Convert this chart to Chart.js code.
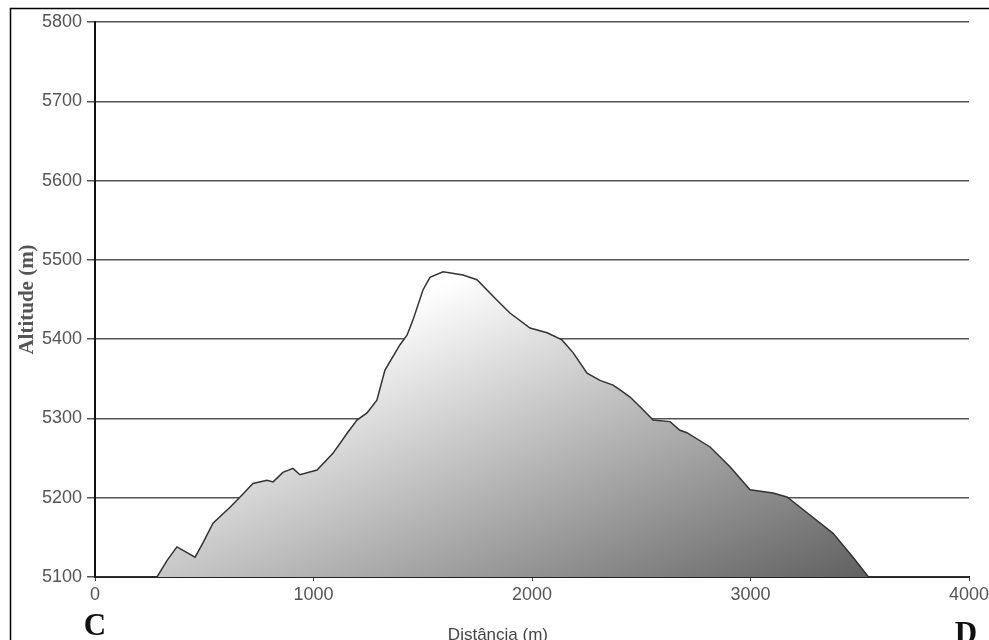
<!DOCTYPE html>
<html>
<head>
<meta charset="utf-8">
<script src="https://cdn.jsdelivr.net/npm/chart.js@4/dist/chart.umd.min.js"></script>
<style>
  html, body { margin: 0; padding: 0; background: #fff; }
  #wrap { width: 989px; height: 640px; position: relative; }
</style>
</head>
<body>
<div id="wrap"><canvas id="perfil"></canvas></div>
<script>
// perfil C - D
const distancias = [0, 284, 330, 375, 458, 494, 540, 618, 664, 723, 787, 815, 860, 906, 938, 1016,
  1089, 1153, 1199, 1245, 1290, 1327, 1396, 1428, 1455, 1501, 1533, 1593, 1684, 1748, 1840, 1899,
  1991, 2069, 2137, 2188, 2252, 2311, 2371, 2403, 2449, 2508, 2554, 2632, 2677, 2709, 2815, 2906,
  2998, 3103, 3167, 3259, 3378, 3469, 3540, 4000];
const altitudes = [5100, 5100, 5121, 5138, 5125, 5143, 5168, 5188, 5201, 5218, 5222, 5220, 5232, 5237, 5229, 5235,
  5256, 5281, 5298, 5307, 5323, 5361, 5393, 5405, 5424, 5462, 5478, 5485, 5481, 5475, 5449, 5433,
  5414, 5408, 5399, 5383, 5357, 5348, 5342, 5336, 5327, 5311, 5298, 5296, 5285, 5282, 5264, 5239,
  5210, 5206, 5201, 5181, 5155, 5125, 5100, 5100];
const xTicks = [0, 1000, 2000, 3000, 4000];
const yTicks = [5100, 5200, 5300, 5400, 5500, 5600, 5700, 5800];
const pontoInicio = 'C';
const pontoFim = 'D';
const tituloX = 'Distância (m)';
const tituloY = 'Altitude (m)';

const pontos = distancias.map((d, i) => ({ x: d, y: altitudes[i] }));

function gradiente(context) {
  const a = context.chart.chartArea;
  if (!a) return '#bbb';
  const w = a.right - a.left, h = a.bottom - a.top;
  const g = context.chart.ctx.createLinearGradient(
    a.left + w * 0.395, a.top + h * 0.474,
    a.left + w * 0.605, a.top + h * 1.229);
  g.addColorStop(0, '#ffffff');
  g.addColorStop(1, '#5a5a5a');
  return g;
}

// moldura, titulo do eixo x e letras C / D
const extras = {
  id: 'extras',
  beforeDraw(chart) {
    const c = chart.ctx;
    c.save();
    c.fillStyle = '#fff';
    c.fillRect(0, 0, chart.width, chart.height);
    c.strokeStyle = '#000';
    c.lineWidth = 1.5;
    c.strokeRect(10.5, 8.5, chart.width + 20, chart.height + 20);
    c.restore();
  },
  afterDraw(chart) {
    const c = chart.ctx;
    const x = chart.scales.x;
    const a = chart.chartArea;
    c.save();
    c.fillStyle = '#444';
    c.font = '17px "Liberation Sans"';
    c.textAlign = 'center';
    c.textBaseline = 'alphabetic';
    c.fillText(tituloX, a.left + (a.right - a.left) * 0.461, 640);

    c.fillStyle = '#111';
    c.font = 'bold 31px "Liberation Serif"';
    c.fillText(pontoInicio, x.getPixelForValue(xTicks[0]), 635);
    c.fillText(pontoFim, x.getPixelForValue(xTicks[xTicks.length - 1]) - 3, 643);
    c.restore();
  }
};

new Chart(document.getElementById('perfil'), {
  type: 'line',
  data: {
    datasets: [{
      data: pontos,
      borderColor: '#333',
      borderWidth: 1.5,
      backgroundColor: gradiente,
      fill: 'start',
      pointRadius: 0,
      tension: 0
    }]
  },
  options: {
    responsive: true,
    maintainAspectRatio: false,
    animation: false,
    layout: { padding: { top: 22, right: 20, left: 0, bottom: 0 } },
    plugins: { legend: { display: false }, tooltip: { enabled: false } },
    scales: {
      x: {
        type: 'linear',
        min: xTicks[0],
        max: xTicks[xTicks.length - 1],
        afterFit: s => { s.height = 63; s.paddingLeft = 0; s.paddingRight = 0; },
        afterBuildTicks: s => { s.ticks = xTicks.map(v => ({ value: v })); },
        ticks: {
          color: '#555',
          font: { family: 'Liberation Sans', size: 18 },
          padding: 3,
          maxRotation: 0,
          callback: v => String(v)
        },
        grid: { drawOnChartArea: false, color: '#444', tickLength: 4, lineWidth: 1 },
        border: { color: '#222', width: 2 }
      },
      y: {
        min: yTicks[0],
        max: yTicks[yTicks.length - 1],
        afterFit: s => { s.width = 95; s.paddingTop = 0; s.paddingBottom = 0; },
        afterBuildTicks: s => { s.ticks = yTicks.map(v => ({ value: v })); },
        ticks: {
          color: '#555',
          font: { family: 'Liberation Sans', size: 18 },
          padding: 5,
          callback: v => String(v)
        },
        grid: { color: '#555', lineWidth: 1.5, tickLength: 8 },
        border: { color: '#111', width: 2 },
        title: {
          display: true,
          text: tituloY,
          color: '#555',
          font: { family: 'Liberation Serif', size: 21, weight: 'bold' },
          padding: { top: 15, bottom: 0 }
        }
      }
    }
  },
  plugins: [extras]
});
</script>
</body>
</html>
